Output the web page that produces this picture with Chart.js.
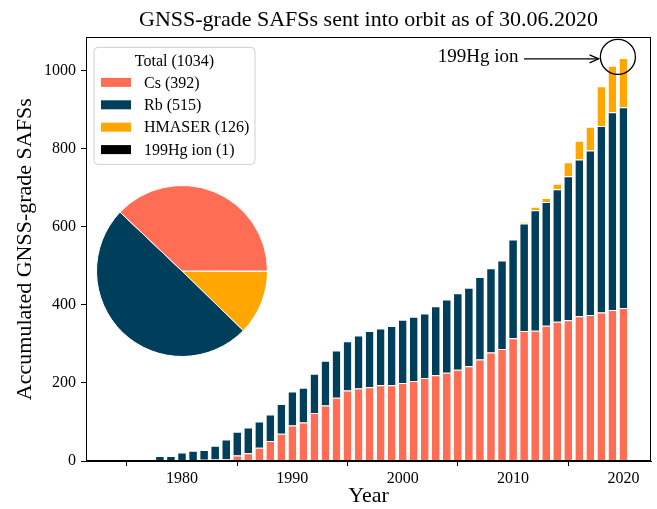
<!DOCTYPE html>
<html><head><meta charset="utf-8">
<script src="https://cdn.jsdelivr.net/npm/chart.js@4.4.0/dist/chart.umd.min.js"></script>
<style>
html,body{margin:0;padding:0;background:#fff;}
#wrap{position:relative;width:657px;height:509px;overflow:hidden;}
#main{position:absolute;left:0;top:0;}
#pie{position:absolute;left:96px;top:185px;}
</style></head><body>
<div id="wrap">
<canvas id="main" width="657" height="509"></canvas>
<canvas id="pie" width="172" height="172"></canvas>
</div>
<script>
// ---------- data ----------
const years = [1978,1979,1980,1981,1982,1983,1984,1985,1986,1987,1988,1989,
  1990,1991,1992,1993,1994,1995,1996,1997,1998,1999,
  2000,2001,2002,2003,2004,2005,2006,2007,2008,2009,
  2010,2011,2012,2013,2014,2015,2016,2017,2018,2019,2020];
const cs = [0,0,1,2,3,4,5,14,20,34,51,70,
  91,99,123,142,162,181,186,189,194,194,
  200,205,213,220,226,234,243,260,278,287,
  315,333,334,347,357,361,371,374,381,387,392];
const rb = [13,13,21,24,25,35,50,61,66,67,68,76,
  87,89,101,115,121,126,136,144,146,152,
  162,165,165,177,188,196,201,212,216,227,
  253,276,309,317,340,369,402,422,478,507,515];
const hmaser = [0,0,0,0,0,0,0,0,0,0,0,0,
  0,0,0,0,0,0,0,0,0,0,
  0,0,0,0,0,0,0,0,0,0,
  0,4,9,10,14,36,48,61,102,119,126];
const hg = [0,0,0,0,0,0,0,0,0,0,0,0,
  0,0,0,0,0,0,0,0,0,0,
  0,0,0,0,0,0,0,0,0,0,
  0,0,0,0,0,0,0,0,0,1,1];
const seriesNames = ['Cs','Rb','HMASER','199Hg ion'];
const xTicks = [1980,1990,2000,2010,2020];
const yTicks = [0,200,400,600,800,1000];
const titleText = 'GNSS-grade SAFSs sent into orbit as of 30.06.2020';
const xLabel = 'Year';
const yLabel = 'Accumulated GNSS-grade SAFSs';
const annText = '199Hg ion';

// ---------- styles ----------
const colors = ['#ff6e54','#003f5c','#ffa600','#000000'];
const FONT = '"Liberation Serif","Times New Roman","DejaVu Serif",serif';
Chart.defaults.font.family = FONT;
Chart.defaults.color = '#000';

const series = [cs, rb, hmaser, hg];
const totals = series.map(a => a[a.length-1]);
const grand = totals.reduce((s,v)=>s+v,0);

const frameLegendAnn = {
  id: 'frameLegendAnn',
  afterDraw(chart) {
    const ctx = chart.ctx, ca = chart.chartArea;
    const xs = chart.scales.x, ys = chart.scales.y;
    ctx.save();
    ctx.strokeStyle = '#000'; ctx.lineWidth = 1;
    ctx.strokeRect(Math.round(ca.left)+0.5, Math.round(ca.top)+0.5,
                   Math.round(ca.right-ca.left)-1, Math.round(ca.bottom-ca.top)-1);
    const bx = ca.left + 8, by = ca.top + 10, bw = 161, bh = 117, r = 4;
    ctx.beginPath();
    ctx.moveTo(bx+r, by); ctx.lineTo(bx+bw-r, by); ctx.arcTo(bx+bw, by, bx+bw, by+r, r);
    ctx.lineTo(bx+bw, by+bh-r); ctx.arcTo(bx+bw, by+bh, bx+bw-r, by+bh, r);
    ctx.lineTo(bx+r, by+bh); ctx.arcTo(bx, by+bh, bx, by+bh-r, r);
    ctx.lineTo(bx, by+r); ctx.arcTo(bx, by, bx+r, by, r); ctx.closePath();
    ctx.fillStyle = 'rgba(255,255,255,0.85)'; ctx.fill();
    ctx.strokeStyle = '#d0d0d0'; ctx.stroke();
    ctx.fillStyle = '#000';
    ctx.font = '16px ' + FONT;
    ctx.textBaseline = 'middle';
    ctx.textAlign = 'center';
    ctx.fillText('Total (' + grand + ')', bx + bw/2, by + 14);
    ctx.textAlign = 'left';
    for (let i = 0; i < seriesNames.length; i++) {
      const cy = by + 35 + i*22.4;
      ctx.fillStyle = colors[i];
      ctx.fillRect(bx + 7, cy - 4.5, 30, 9);
      ctx.fillStyle = '#000';
      ctx.fillText(seriesNames[i] + ' (' + totals[i] + ')', bx + 50, cy + 1);
    }
    const cx = xs.getPixelForValue(2019.5), cyy = ys.getPixelForValue(1036);
    ctx.strokeStyle = '#000'; ctx.lineWidth = 1.3;
    ctx.beginPath(); ctx.arc(cx, cyy, 17.5, 0, Math.PI*2); ctx.stroke();
    const ay = ys.getPixelForValue(1031);
    const ax0 = xs.getPixelForValue(2011.0), ax1 = xs.getPixelForValue(2017.75);
    ctx.beginPath(); ctx.moveTo(ax0, ay); ctx.lineTo(ax1, ay); ctx.stroke();
    ctx.beginPath(); ctx.moveTo(ax1 - 9, ay - 4); ctx.lineTo(ax1, ay); ctx.lineTo(ax1 - 9, ay + 4); ctx.stroke();
    ctx.fillStyle = '#000';
    ctx.font = '19px ' + FONT;
    ctx.textAlign = 'right'; ctx.textBaseline = 'middle';
    ctx.fillText(annText, xs.getPixelForValue(2010.5), ys.getPixelForValue(1036));
    ctx.restore();
  }
};

new Chart(document.getElementById('main'), {
  type: 'bar',
  data: {
    datasets: series.map((arr, i) => ({
      label: seriesNames[i],
      data: years.map((yr, j) => ({x: yr, y: arr[j]})),
      backgroundColor: colors[i],
      borderColor: '#ffffff',
      borderWidth: {top: 1, left: 0, right: 0, bottom: 0},
      borderSkipped: false,
      barPercentage: 1.0,
      categoryPercentage: 0.7
    }))
  },
  options: {
    responsive: false, animation: false, devicePixelRatio: 1,
    events: [],
    layout: {padding: {left: 0, right: 6, top: 0, bottom: 0}},
    plugins: {
      legend: {display: false},
      tooltip: {enabled: false},
      title: {display: true, text: titleText, color: '#000', fullSize: false,
        font: {size: 22, weight: 'normal', family: FONT},
        padding: {top: 7, bottom: 4}}
    },
    scales: {
      x: {
        type: 'linear', stacked: true, min: 1971.3, max: 2022.5, offset: false,
        afterFit(s) { s.height = 48; },
        afterBuildTicks(s) { s.ticks = xTicks.map(v => ({value: v})); },
        ticks: {callback: v => String(v), font: {size: 16}, color: '#000', padding: 3, maxRotation: 0, autoSkip: false},
        grid: {drawOnChartArea: false, tickLength: 5, color: '#000'},
        border: {display: true, color: '#000', width: 1},
        title: {display: true, text: xLabel, color: '#000', font: {size: 22}, padding: {top: 0, bottom: 0}}
      },
      y: {
        type: 'linear', stacked: true, min: 0, max: 1086,
        afterFit(s) { s.width = 86; },
        afterBuildTicks(s) { s.ticks = yTicks.map(v => ({value: v})); },
        ticks: {callback: v => String(v), font: {size: 16}, color: '#000', padding: 5, autoSkip: false},
        grid: {drawOnChartArea: false, tickLength: 5, color: '#000'},
        border: {display: true, color: '#000', width: 1},
        title: {display: true, text: yLabel, color: '#000', font: {size: 22}, padding: {top: 12, bottom: 0}}
      }
    }
  },
  plugins: [frameLegendAnn]
});

const pieOrder = [3, 2, 1, 0];
new Chart(document.getElementById('pie'), {
  type: 'pie',
  data: {
    labels: pieOrder.map(i => seriesNames[i]),
    datasets: [{
      data: pieOrder.map(i => totals[i]),
      backgroundColor: pieOrder.map(i => colors[i]),
      borderColor: '#ffffff', borderWidth: 1
    }]
  },
  options: {
    responsive: false, animation: false, devicePixelRatio: 1, events: [],
    rotation: 90,
    layout: {padding: 0},
    plugins: {legend: {display: false}, tooltip: {enabled: false}, title: {display: false}}
  }
});
</script>
</body></html>
